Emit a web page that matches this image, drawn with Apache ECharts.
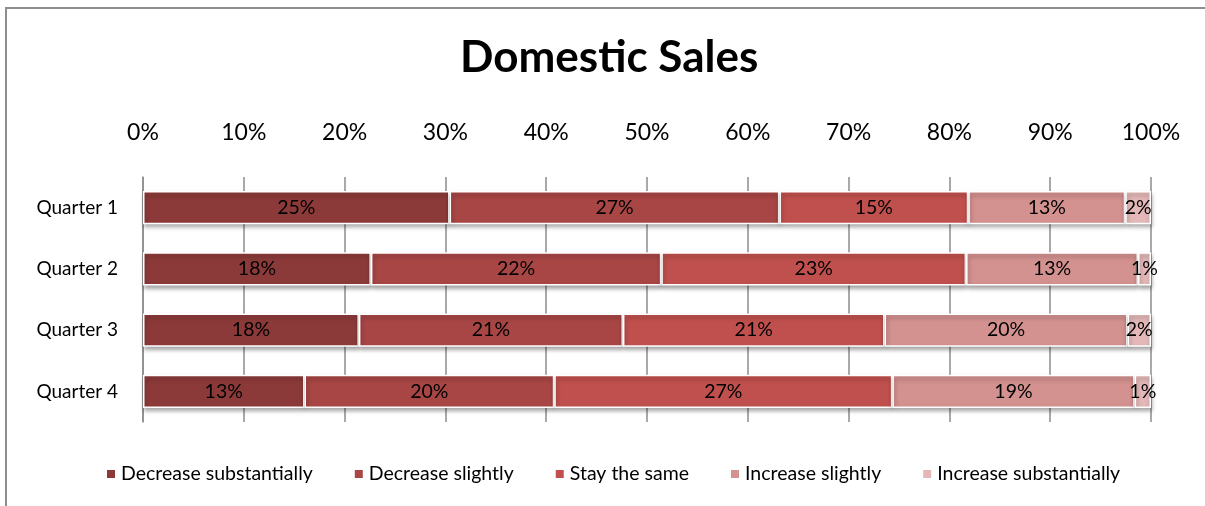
<!DOCTYPE html>
<html>
<head>
<meta charset="utf-8">
<script src="https://cdn.jsdelivr.net/npm/echarts@6/dist/echarts.min.js"></script>
<style>
  html, body { margin: 0; padding: 0; background: #fff; }
  #wrap { position: relative; width: 1205px; height: 506px; overflow: hidden; }
  #frame { position: absolute; left: 5px; top: 7px; width: 1210px; height: 510px;
           border-left: 2px solid #8e8e8e; border-top: 2px solid #8e8e8e; box-sizing: border-box; }
  #chart { position: absolute; left: 0; top: 0; width: 1205px; height: 506px; }
</style>
</head>
<body>
<div id="wrap"><div id="frame"></div><div id="chart"></div></div>
<script>
const categories = ['Quarter 1', 'Quarter 2', 'Quarter 3', 'Quarter 4'];
const seriesNames = ['Decrease substantially', 'Decrease slightly', 'Stay the same', 'Increase slightly', 'Increase substantially'];
const decreaseSubstantially = [25.0, 17.5, 17.5, 12.8];
const decreaseSlightly      = [26.9, 22.3, 21.4, 19.8];
const stayTheSame           = [15.4, 23.4, 21.2, 26.8];
const increaseSlightly      = [12.8, 13.2, 19.7, 19.2];
const increaseSubstantially = [2.1, 1.0, 1.9, 1.3];
const tickValues = [0, 10, 20, 30, 40, 50, 60, 70, 80, 90, 100];
const colors = ['#8c3a39', '#a84645', '#c0504d', '#d3918f', '#e4b8b8'];

const raw = [decreaseSubstantially, decreaseSlightly, stayTheSame, increaseSlightly, increaseSubstantially];
const totals = categories.map((c, i) => raw.reduce((s, arr) => s + arr[i], 0));

const FONT = 'Lato';

const series = raw.map((arr, k) => ({
  name: seriesNames[k],
  type: 'bar',
  stack: 'total',
  barCategoryGap: '46%',
  data: arr.map((v, i) => ({ value: v / totals[i] * 100, raw: v })),
  itemStyle: {
    color: colors[k],
    borderColor: '#ffffff',
    borderWidth: 1.5,
    shadowColor: 'rgba(0,0,0,0.35)',
    shadowBlur: 4,
    shadowOffsetX: 1,
    shadowOffsetY: 3
  },
  label: {
    show: true,
    position: 'inside',
    color: '#000',
    fontFamily: FONT,
    fontSize: 19.5,
    formatter: p => Math.round(p.data.raw) + '%'
  },
  emphasis: { disabled: true }
}));

const chart = echarts.init(document.getElementById('chart'), null, { renderer: 'canvas' });
chart.setOption({
  animation: false,
  color: colors,
  title: {
    text: 'Domestic Sales',
    left: 455,
    top: 31,
    textStyle: { fontFamily: FONT, fontWeight: 'bold', fontSize: 44, color: '#000' }
  },
  legend: {
    data: seriesNames,
    bottom: 17,
    left: 100,
    icon: 'rect',
    itemWidth: 10,
    itemHeight: 10,
    itemGap: 40,
    textStyle: { fontFamily: FONT, fontSize: 19.5, color: '#000' }
  },
  grid: { left: 143, right: 54, top: 177, bottom: 84, containLabel: false },
  xAxis: {
    type: 'value',
    position: 'top',
    min: tickValues[0],
    max: tickValues[tickValues.length - 1],
    interval: 10,
    axisLine: { show: false },
    axisTick: { show: false },
    axisLabel: { formatter: '{value}%', fontFamily: FONT, fontSize: 23, color: '#000', margin: 33 },
    splitLine: { show: true, lineStyle: { color: '#8c8c8c', width: 1.5 } }
  },
  yAxis: {
    type: 'category',
    data: categories,
    inverse: true,
    axisLine: { show: true, lineStyle: { color: '#8c8c8c', width: 1.5 } },
    axisTick: { show: false },
    axisLabel: { fontFamily: FONT, fontSize: 19, color: '#000', margin: 25 }
  },
  series: series
});
</script>
</body>
</html>
